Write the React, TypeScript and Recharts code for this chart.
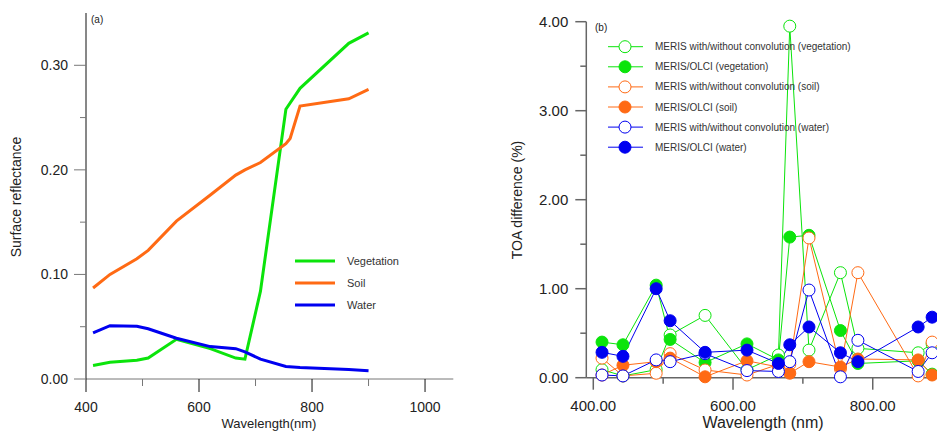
import { LineChart, Line, XAxis, YAxis, Legend } from "recharts";

const GREEN = "#0be40b";
const ORANGE = "#ff6a14";
const BLUE = "#0000f0";
const AXIS_X = "#777";
const AXIS_Y = "#111";
const AXIS_B = "#666";
const TEXT = "#222";
const FONT = "Arial, 'Liberation Sans', sans-serif";

// (a) surface reflectance spectra
const vegWl = [412.5, 442.5, 490, 510, 560, 620, 665, 681.25, 708.75, 753.75, 778.75, 865, 900];
const vegRefl = [0.013, 0.016, 0.018, 0.02, 0.038, 0.029, 0.02, 0.019, 0.084, 0.258, 0.278, 0.321, 0.331];
const soilWl = [412.5, 442.5, 490, 510, 560, 620, 665, 681.25, 708.75, 753.75, 761.25, 778.75, 865, 900];
const soilRefl = [0.087, 0.1, 0.115, 0.123, 0.151, 0.176, 0.195, 0.2, 0.207, 0.225, 0.23, 0.261, 0.268, 0.277];
const waterWl = [412.5, 442.5, 490, 510, 560, 620, 665, 681.25, 708.75, 753.75, 778.75, 865, 900];
const waterRefl = [0.044, 0.051, 0.0505, 0.048, 0.039, 0.031, 0.029, 0.026, 0.019, 0.012, 0.011, 0.009, 0.008];

// (b) TOA differences (%) at MERIS bands
const bands = [412.5, 442.5, 490, 510, 560, 620, 665, 681.25, 708.75, 753.75, 778.75, 865, 885];
const vegConv = [0.09, 0.02, 0.09, 0.48, 0.7, 0.09, 0.255, 3.95, 0.31, 1.18, 0.33, 0.28, 0.38];
const vegOlci = [0.4, 0.37, 1.04, 0.43, 0.17, 0.38, 0.2, 1.58, 1.6, 0.53, 0.16, 0.19, 0.04];
const soilConv = [0.22, 0.02, 0.05, 0.27, 0.087, 0.03, 0.15, 0.15, 1.57, 0.1, 1.18, 0.02, 0.4];
const soilOlci = [0.03, 0.14, 0.18, 0.22, 0.01, 0.19, 0.12, 0.05, 0.18, 0.12, 0.21, 0.2, 0.03];
const waterConv = [0.03, 0.02, 0.2, 0.18, 0.27, 0.08, 0.07, 0.18, 0.985, 0.01, 0.42, 0.07, 0.28];
const waterOlci = [0.285, 0.24, 1.0, 0.64, 0.285, 0.31, 0.16, 0.37, 0.57, 0.28, 0.18, 0.57, 0.68];

const xTicksA = [400, 500, 600, 700, 800, 900, 1000];
const yTicksA = [0, 0.05, 0.1, 0.15, 0.2, 0.25, 0.3];
const xTicksB = [400, 500, 600, 700, 800, 900];
const yTicksB = [0, 0.5, 1, 1.5, 2, 2.5, 3, 3.5, 4];

const zip = (wl: number[], vals: number[]) => wl.map((w, i) => ({ wl: w, v: vals[i] }));

const seriesA = [
  { name: "Vegetation", color: GREEN, data: zip(vegWl, vegRefl) },
  { name: "Soil", color: ORANGE, data: zip(soilWl, soilRefl) },
  { name: "Water", color: BLUE, data: zip(waterWl, waterRefl) },
];

const seriesB = [
  { name: "MERIS with/without convolution (vegetation)", color: GREEN, open: true, data: zip(bands, vegConv) },
  { name: "MERIS/OLCI (vegetation)", color: GREEN, open: false, data: zip(bands, vegOlci) },
  { name: "MERIS with/without convolution (soil)", color: ORANGE, open: true, data: zip(bands, soilConv) },
  { name: "MERIS/OLCI (soil)", color: ORANGE, open: false, data: zip(bands, soilOlci) },
  { name: "MERIS with/without convolution (water)", color: BLUE, open: true, data: zip(bands, waterConv) },
  { name: "MERIS/OLCI (water)", color: BLUE, open: false, data: zip(bands, waterOlci) },
];

const XTickA = ({ x, y, payload }: any) => {
  const major = payload.value % 200 === 0;
  return (
    <g>
      <line x1={x} y1={y} x2={x} y2={y + (major ? 13 : 7)} stroke={major ? AXIS_Y : AXIS_X} />
      {major && (
        <text x={x} y={y + 33} textAnchor="middle" fontSize={14} fill={TEXT} fontFamily={FONT}>
          {payload.value}
        </text>
      )}
    </g>
  );
};

const YTickA = ({ x, y, payload }: any) => {
  const major = Math.round(payload.value * 100) % 10 === 0;
  return (
    <g>
      <line x1={x} y1={y} x2={x - (major ? 12 : 6)} y2={y} stroke={AXIS_X} />
      {major && (
        <text x={x - 18} y={y + 5} textAnchor="end" fontSize={14} fill={TEXT} fontFamily={FONT}>
          {payload.value.toFixed(2)}
        </text>
      )}
    </g>
  );
};

const XTickB = ({ x, y, payload }: any) => {
  const major = payload.value % 200 === 0;
  return (
    <g>
      <line x1={x} y1={y} x2={x} y2={y + (major ? 12 : 6)} stroke={AXIS_B} strokeWidth={1.5} />
      {major && (
        <text x={x} y={y + 33} textAnchor="middle" fontSize={15} fill={TEXT} fontFamily={FONT}>
          {payload.value.toFixed(2)}
        </text>
      )}
    </g>
  );
};

const YTickB = ({ x, y, payload }: any) => {
  const major = payload.value % 1 === 0;
  return (
    <g>
      <line x1={x} y1={y} x2={x - (major ? 11 : 6)} y2={y} stroke={AXIS_B} strokeWidth={1.5} />
      {major && (
        <text x={x - 18} y={y + 5} textAnchor="end" fontSize={15} fill={TEXT} fontFamily={FONT}>
          {payload.value.toFixed(2)}
        </text>
      )}
    </g>
  );
};

const LegendA = () => (
  <svg width={130} height={66}>
    {seriesA.map((s, i) => (
      <g key={s.name}>
        <line x1={0} x2={40} y1={10 + i * 22} y2={10 + i * 22} stroke={s.color} strokeWidth={3} />
        <text x={52} y={14 + i * 22} fontSize={11} fill="#333" fontFamily={FONT}>
          {s.name}
        </text>
      </g>
    ))}
  </svg>
);

const LegendB = () => (
  <svg width={270} height={124}>
    {seriesB.map((s, i) => {
      const cy = 10.7 + i * 20.1;
      return (
        <g key={s.name}>
          <line x1={8} x2={43} y1={cy} y2={cy} stroke={s.color} />
          <circle cx={25} cy={cy} r={6} fill={s.open ? "#fff" : s.color} stroke={s.color} />
          <text x={55} y={cy + 3.5} fontSize={10} fill="#333" fontFamily={FONT}>
            {s.name}
          </text>
        </g>
      );
    })}
  </svg>
);

const labelStyle = (left: number, top: number, size: number, rotate = false): React.CSSProperties => ({
  position: "absolute",
  left,
  top,
  transform: `translate(-50%, -50%)${rotate ? " rotate(-90deg)" : ""}`,
  whiteSpace: "nowrap",
  fontSize: size,
  color: TEXT,
  fontFamily: FONT,
  lineHeight: 1,
});

export default function App() {
  return (
    <div
      style={{
        position: "absolute",
        left: 0,
        top: 0,
        width: 937,
        height: 434,
        overflow: "hidden",
        background: "#fff",
        fontFamily: FONT,
      }}
    >
      <div style={{ position: "absolute", left: 0, top: 0 }}>
        <LineChart width={470} height={434} margin={{ top: 13, right: 16.7, bottom: 15, left: 26 }}>
          <XAxis
            dataKey="wl"
            type="number"
            domain={[400, 1050]}
            ticks={xTicksA}
            interval={0}
            tickSize={0}
            tickMargin={0}
            tickLine={false}
            height={40}
            axisLine={{ stroke: AXIS_X }}
            tick={<XTickA />}
          />
          <YAxis
            type="number"
            domain={[0, 0.35]}
            ticks={yTicksA}
            interval={0}
            tickSize={0}
            tickMargin={0}
            tickLine={false}
            width={60}
            axisLine={{ stroke: AXIS_Y }}
            tick={<YTickA />}
          />
          <Legend
            layout="vertical"
            align="center"
            verticalAlign="middle"
            content={<LegendA />}
            wrapperStyle={{ left: 295, top: 251, width: 130 }}
          />
          {seriesA.map((s) => (
            <Line
              key={s.name}
              data={s.data}
              dataKey="v"
              name={s.name}
              type="linear"
              stroke={s.color}
              strokeWidth={3}
              dot={false}
              activeDot={false}
              isAnimationActive={false}
            />
          ))}
        </LineChart>
      </div>

      <div style={{ position: "absolute", left: 470, top: 0 }}>
        <LineChart width={480} height={434} margin={{ top: 21.7, right: 7.4, bottom: 16.3, left: 56.3 }}>
          <XAxis
            dataKey="wl"
            type="number"
            domain={[390, 900]}
            ticks={xTicksB}
            interval={0}
            tickSize={0}
            tickMargin={0}
            tickLine={false}
            height={40}
            axisLine={{ stroke: AXIS_B, strokeWidth: 1.5 }}
            tick={<XTickB />}
          />
          <YAxis
            type="number"
            domain={[0, 4]}
            ticks={yTicksB}
            interval={0}
            tickSize={0}
            tickMargin={0}
            tickLine={false}
            width={60}
            axisLine={{ stroke: AXIS_B, strokeWidth: 1.5 }}
            tick={<YTickB />}
          />
          <Legend
            layout="vertical"
            align="center"
            verticalAlign="middle"
            content={<LegendB />}
            wrapperStyle={{ left: 130, top: 36, width: 270 }}
          />
          {seriesB.map((s) => (
            <Line
              key={s.name}
              data={s.data}
              dataKey="v"
              name={s.name}
              type="linear"
              stroke={s.color}
              strokeWidth={1}
              dot={{ r: 6, fill: s.open ? "#fff" : s.color, stroke: s.color, strokeWidth: 1 }}
              activeDot={false}
              isAnimationActive={false}
            />
          ))}
        </LineChart>
      </div>

      <div style={{ position: "absolute", left: 91, top: 14, fontSize: 10, color: TEXT }}>(a)</div>
      <div style={{ position: "absolute", left: 595, top: 22, fontSize: 10, color: TEXT }}>(b)</div>
      <div style={labelStyle(269, 423, 13)}>Wavelength(nm)</div>
      <div style={labelStyle(16, 197, 14, true)}>Surface reflectance</div>
      <div style={labelStyle(763, 423, 16)}>Wavelength (nm)</div>
      <div style={labelStyle(517, 200, 14, true)}>TOA difference (%)</div>
    </div>
  );
}
